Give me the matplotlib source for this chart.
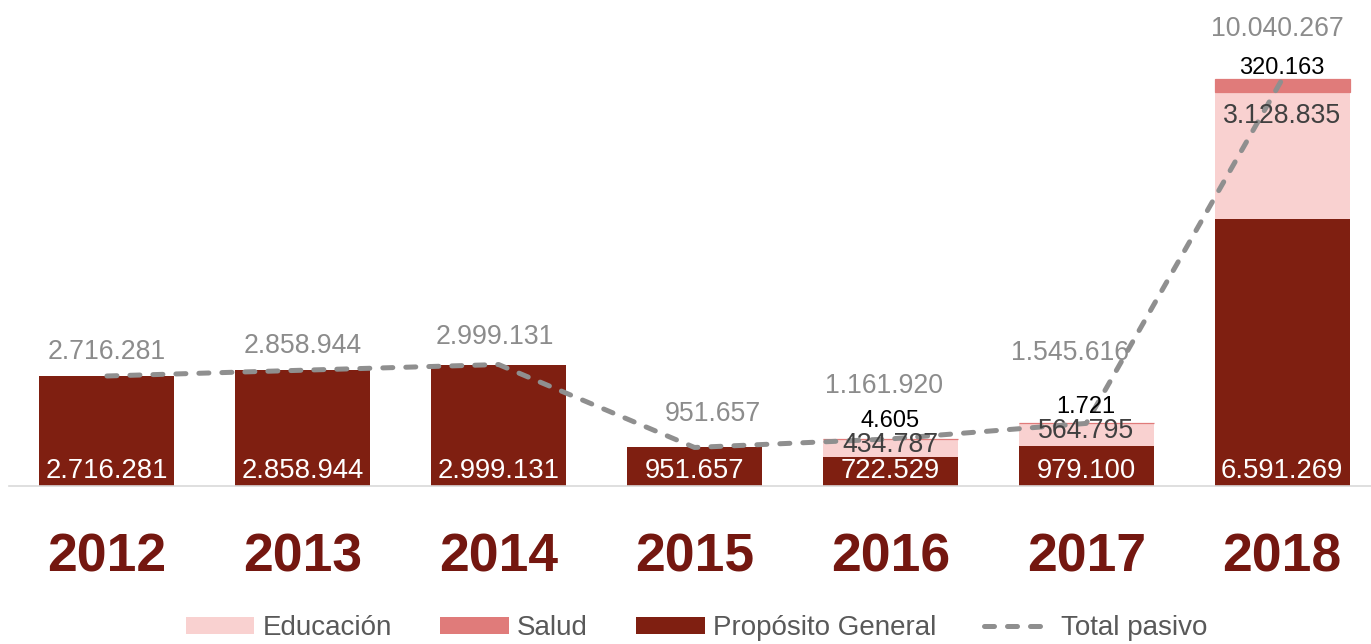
import matplotlib
matplotlib.use("Agg")
import matplotlib.pyplot as plt
import numpy as np

plt.rcParams['font.family'] = ['Liberation Sans', 'DejaVu Sans']

# datos por año
years = ['2012', '2013', '2014', '2015', '2016', '2017', '2018']
proposito_general = [2716281, 2858944, 2999131, 951657, 722529, 979100, 6591269]
educacion = [0, 0, 0, 0, 434787, 564795, 3128835]
salud = [0, 0, 0, 0, 4605, 1721, 320163]
total_pasivo = [2716281, 2858944, 2999131, 951657, 1161920, 1545616, 10040267]

# colores
c_pg = '#7f1f11'
c_edu = '#f9d1d0'
c_sal = '#e07b7a'
c_line = '#8f8f8f'
c_year = '#741710'

# desplazamientos de etiquetas (px)
total_dx = [0, 0, -4, 18, -6, -16, -5]
total_off = [17, 17, 21, 26, 46, 63, 43]
salud_off = [0, 0, 0, 0, 12, 10, 5]
edu_off = [0, 0, 0, 0, -13, -15, -31]


def fmt(v):
    return f'{v:,}'.replace(',', '.')


W, H = 1371, 644
fig = plt.figure(figsize=(W / 100, H / 100), dpi=100)
ax = fig.add_axes([9 / W, 158 / H, 1371 / W, 486 / H])

x = np.arange(len(years))
pg = np.array(proposito_general)
edu = np.array(educacion)
sal = np.array(salud)

ax.bar(x, pg, width=0.69, color=c_pg, label='Propósito General', zorder=2)
ax.bar(x, edu, width=0.69, bottom=pg, color=c_edu, label='Educación', zorder=2)
ax.bar(x, sal, width=0.69, bottom=pg + edu, color=c_sal, label='Salud', zorder=2,
       edgecolor=[c_sal if v > 0 else 'none' for v in sal], linewidth=0.9)
ax.plot(x, total_pasivo, color=c_line, lw=3.6, linestyle=(0, (2, 2.6)),
        dash_capstyle='round', label='Total pasivo', zorder=3)

ax.set_xlim(-0.5, 6.5)
ax.set_ylim(0, 12.0e6)

for i in range(len(years)):
    ax.annotate(fmt(pg[i]), (x[i], 0), xytext=(0, 8), textcoords='offset pixels',
                ha='center', va='baseline', color='white', fontsize=19.8, zorder=4)
    ax.annotate(fmt(total_pasivo[i]), (x[i], total_pasivo[i]),
                xytext=(total_dx[i], total_off[i]),
                textcoords='offset pixels', ha='center', va='baseline',
                color='#8c8c8c', fontsize=19.2, zorder=4)
    if edu[i] > 0:
        ax.annotate(fmt(edu[i]), (x[i], pg[i] + edu[i]), xytext=(0, edu_off[i]),
                    textcoords='offset pixels', ha='center', va='baseline',
                    color='#404040', fontsize=19.2, zorder=4)
    if sal[i] > 0:
        ax.annotate(fmt(sal[i]), (x[i], pg[i] + edu[i] + sal[i]), xytext=(0, salud_off[i]),
                    textcoords='offset pixels', ha='center', va='baseline',
                    color='black', fontsize=17, zorder=4)
    ax.annotate(years[i], (x[i], 0), xycoords=('data', 'axes fraction'),
                xytext=(0, -86), textcoords='offset pixels', ha='center',
                va='baseline', color=c_year, fontsize=38.5, fontweight='bold')

for s in ['top', 'right', 'left']:
    ax.spines[s].set_visible(False)
ax.spines['bottom'].set_color('#d9d9d9')
ax.spines['bottom'].set_linewidth(1.2)
ax.set_xticks([])
ax.set_yticks([])

handles, labels = ax.get_legend_handles_labels()
order = [labels.index(n) for n in ['Educación', 'Salud', 'Propósito General', 'Total pasivo']]
fig.legend([handles[k] for k in order], [labels[k] for k in order],
           loc='center', bbox_to_anchor=(696.5 / W, 16 / H), ncol=4, frameon=False,
           fontsize=20, labelcolor='#595959', handlelength=2.48, handleheight=0.58,
           handletextpad=0.29, columnspacing=1.73, borderpad=0)

fig.savefig('out.png', dpi=100)
